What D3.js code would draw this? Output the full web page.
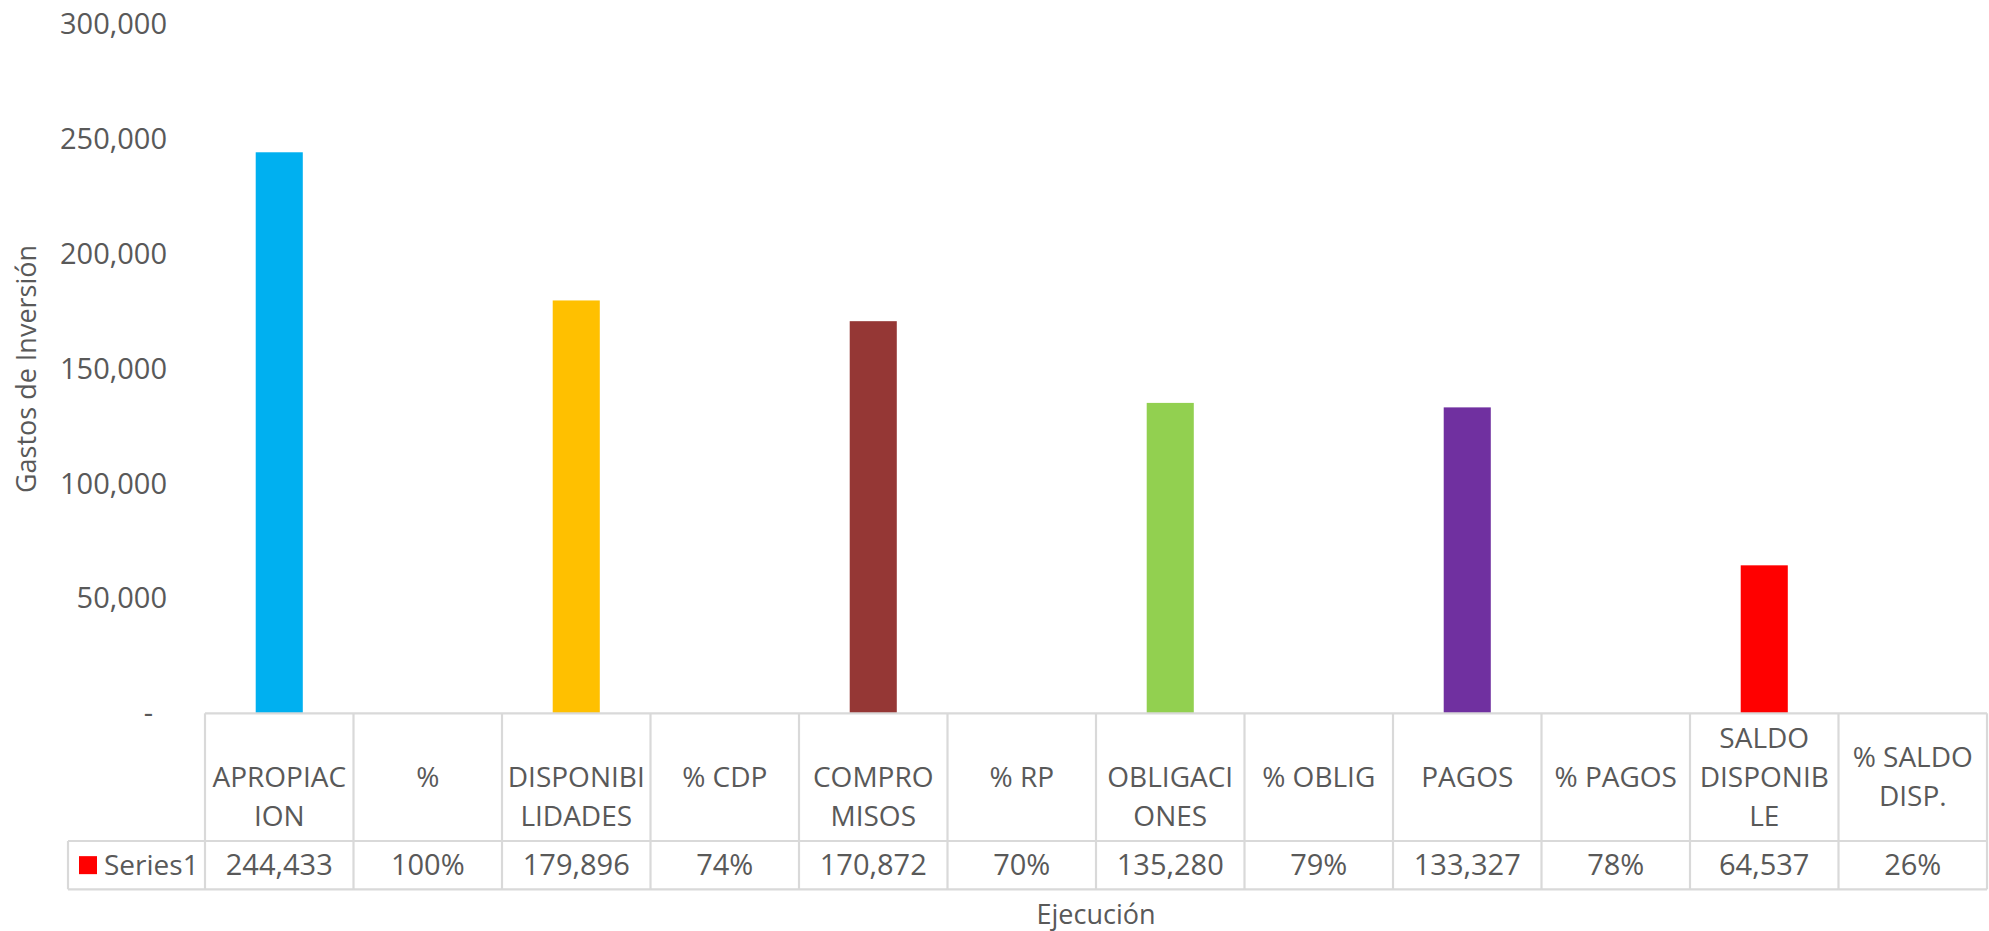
<!DOCTYPE html>
<html>
<head>
<meta charset="utf-8">
<script src="https://cdn.jsdelivr.net/npm/d3@7"></script>
<style>
  body { margin: 0; background: #fff; }
  svg { display: block; font-family: "Open Sans", sans-serif; }
</style>
</head>
<body>
<svg id="chart"></svg>
<script>
// data
const categories = ["APROPIACION", "%", "DISPONIBILIDADES", "% CDP", "COMPROMISOS", "% RP",
  "OBLIGACIONES", "% OBLIG", "PAGOS", "% PAGOS", "SALDO DISPONIBLE", "% SALDO DISP."];
// header text as it wraps in the table (first empty line keeps the original offset)
const categoryLines = [["", "APROPIAC", "ION"], ["%"], ["", "DISPONIBI", "LIDADES"], ["% CDP"],
  ["", "COMPRO", "MISOS"], ["% RP"], ["", "OBLIGACI", "ONES"], ["% OBLIG"], ["PAGOS"],
  ["% PAGOS"], ["SALDO", "DISPONIB", "LE"], ["% SALDO", "DISP."]];
const values = [244433, 1.00, 179896, 0.74, 170872, 0.70, 135280, 0.79, 133327, 0.78, 64537, 0.26];
const barColors = ["#00B0F0", null, "#FFC000", null, "#953735", null, "#92D050", null, "#7030A0", null, "#FF0000", null];
const yTicks = [0, 50000, 100000, 150000, 200000, 250000, 300000];
const seriesName = "Series1";
const seriesColor = "#FF0000";

const W = 1989, H = 931;
const textColor = "#595959";
const gridColor = "#d9d9d9";

const svg = d3.select("#chart").attr("width", W).attr("height", H);

const x = d3.scaleBand().domain(categories).range([205, 1987]).padding(0);
const y = d3.scaleLinear().domain([0, 300000]).range([713.5, 24.7]);

const isPct = c => c.startsWith("%");
const fmtNum = d3.format(",");
const fmtPct = d3.format(".0%");

// y axis (labels only)
const yAxis = d3.axisLeft(y)
  .tickValues(yTicks)
  .tickSize(0)
  .tickPadding(38)
  .tickFormat(d => d === 0 ? "-" : fmtNum(d));

const gy = svg.append("g")
  .attr("transform", "translate(205,0)")
  .call(yAxis);
gy.select(".domain").remove();
gy.selectAll("text")
  .attr("fill", textColor)
  .style("font-size", "29px")
  .style("font-family", "'Open Sans', sans-serif");
gy.selectAll(".tick").filter(d => d === 0).select("text").attr("dx", -14);

// bars
const bw = x.bandwidth() * 0.317;
svg.append("g").selectAll("rect")
  .data(categories.map((c, i) => ({ c, v: values[i], col: barColors[i] })).filter(d => d.col))
  .join("rect")
  .attr("x", d => x(d.c) + (x.bandwidth() - bw) / 2)
  .attr("width", bw)
  .attr("y", d => y(d.v))
  .attr("height", d => y(0) - y(d.v))
  .attr("fill", d => d.col);

// data table
const tTop = 713.3, tMid = 841, tBot = 889.3, legLeft = 68;
const tRight = x.range()[1];
const tbl = svg.append("g").attr("stroke", gridColor).attr("stroke-width", 2.2);
tbl.append("line").attr("x1", x.range()[0]).attr("x2", tRight).attr("y1", tTop).attr("y2", tTop);
tbl.append("line").attr("x1", legLeft).attr("x2", tRight).attr("y1", tMid).attr("y2", tMid);
tbl.append("line").attr("x1", legLeft).attr("x2", tRight).attr("y1", tBot).attr("y2", tBot);
tbl.append("line").attr("x1", legLeft).attr("x2", legLeft).attr("y1", tMid).attr("y2", tBot);
tbl.selectAll(".v")
  .data(categories.concat(["__end"]))
  .join("line")
  .attr("x1", (d, i) => i < categories.length ? x(d) : tRight)
  .attr("x2", (d, i) => i < categories.length ? x(d) : tRight)
  .attr("y1", tTop).attr("y2", tBot);

// header labels
const lineH = 39;
const headCenter = (tTop + tMid) / 2;
const heads = svg.append("g")
  .attr("fill", textColor)
  .style("font-size", "28px")
  .attr("text-anchor", "middle");
categories.forEach((c, i) => {
  const lines = categoryLines[i];
  const y0 = headCenter - (lines.length - 1) * lineH / 2;
  heads.append("text")
    .selectAll("tspan")
    .data(lines)
    .join("tspan")
    .attr("x", x(c) + x.bandwidth() / 2)
    .attr("y", (d, j) => y0 + j * lineH)
    .attr("dy", "0.35em")
    .text(d => d);
});

// value row
const rowCenter = (tMid + tBot) / 2;
svg.append("g")
  .attr("fill", textColor)
  .style("font-size", "29px")
  .attr("text-anchor", "middle")
  .selectAll("text")
  .data(categories)
  .join("text")
  .attr("x", d => x(d) + x.bandwidth() / 2)
  .attr("y", rowCenter)
  .attr("dy", "0.35em")
  .text((d, i) => isPct(d) ? fmtPct(values[i]) : fmtNum(values[i]));

// legend key in table
svg.append("rect")
  .attr("x", 79).attr("y", rowCenter - 9)
  .attr("width", 18).attr("height", 18)
  .attr("fill", seriesColor);
svg.append("text")
  .attr("x", 104).attr("y", rowCenter).attr("dy", "0.35em")
  .attr("fill", textColor)
  .style("font-size", "28px")
  .text(seriesName);

// axis titles
svg.append("text")
  .attr("x", (x.range()[0] + tRight) / 2)
  .attr("y", 915).attr("dy", "0.35em")
  .attr("text-anchor", "middle")
  .attr("fill", textColor)
  .style("font-size", "27px")
  .text("Ejecución");

svg.append("text")
  .attr("transform", "translate(27,369) rotate(-90)")
  .attr("dy", "0.35em")
  .attr("text-anchor", "middle")
  .attr("fill", textColor)
  .style("font-size", "27px")
  .text("Gastos de Inversión");
</script>
</body>
</html>
